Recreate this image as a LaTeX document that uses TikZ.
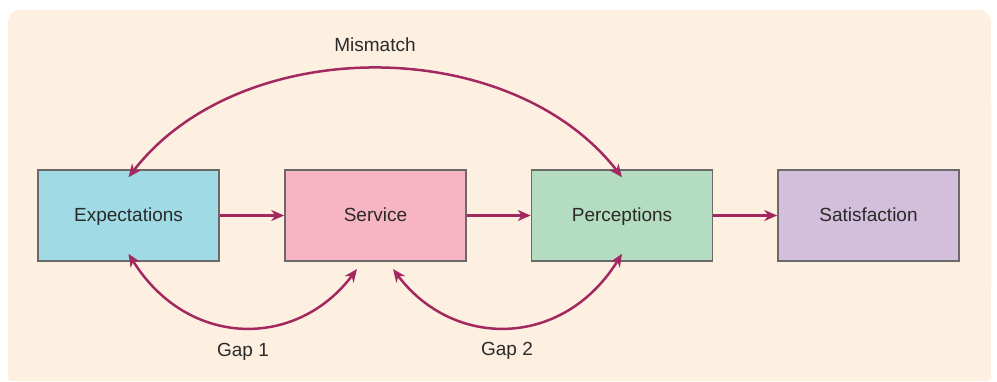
\documentclass[tikz,border=0pt]{standalone}
\usepackage{fontspec}
\setmainfont{Liberation Sans}
\usetikzlibrary{arrows.meta}
\definecolor{bgc}{HTML}{FDF0E1}
\definecolor{arr}{HTML}{A3285F}
\definecolor{cexp}{HTML}{A0DAE4}
\definecolor{cser}{HTML}{F7B5C4}
\definecolor{cper}{HTML}{B3DCC0}
\definecolor{csat}{HTML}{D3BEDC}
\definecolor{bord}{HTML}{6A6A6A}
\definecolor{txt}{HTML}{2A2A2A}
\begin{document}
\begin{tikzpicture}[x=1pt,y=-1pt,
  box/.style={draw=bord,line width=1.5pt,minimum width=181pt,minimum height=91pt,inner sep=0pt,text=txt,font=\fontsize{19}{22}\selectfont,text height=1.12em,text depth=0pt},
  conn/.style={draw=arr,line width=2.5pt,-{Stealth[length=13pt,width=11pt,inset=4pt]}},
  bconn/.style={draw=arr,line width=2.5pt,{Stealth[length=13pt,width=11pt,inset=4pt]}-{Stealth[length=13pt,width=11pt,inset=4pt]}},
  lab/.style={text=txt,font=\fontsize{19}{22}\selectfont,text height=1.12em,text depth=0pt,inner sep=0pt}]
\useasboundingbox (0,0) rectangle (997,382);
\fill[bgc,rounded corners=12pt] (8,10) rectangle (991,300);
\fill[bgc,rounded corners=3pt] (8,100) rectangle (991,381);
\node[box,fill=cexp] (exp) at (128.5,215.5) {Expectations};
\node[box,fill=cser] (ser) at (375.5,215.5) {Service};
\node[box,fill=cper] (per) at (622,215.5) {Perceptions};
\node[box,fill=csat] (sat) at (868.5,215.5) {Satisfaction};
\draw[conn] (exp.east) -- (ser.west);
\draw[conn] (ser.east) -- (per.west);
\draw[conn] (per.east) -- (sat.west);
\coordinate (m1) at ([yshift=-8pt]exp.north);
\coordinate (m2) at ([yshift=-8pt]per.north);
\draw[bconn] (m1) .. controls (240,33) and (510,33) .. (m2);
\node[lab] (mis) at (375,46) {Mismatch};
\coordinate (g1a) at ([yshift=8pt]exp.south);
\coordinate (g1b) at (357,269);
\draw[bconn] (g1a) .. controls (188,349) and (297,349) .. (g1b);
\node[lab] (gap1) at (243,351) {Gap 1};
\coordinate (g2a) at (393,269);
\coordinate (g2b) at ([yshift=8pt]per.south);
\draw[bconn] (g2a) .. controls (453,349) and (563,349) .. (g2b);
\node[lab] (gap2) at (507,350) {Gap 2};
\end{tikzpicture}
\end{document}
